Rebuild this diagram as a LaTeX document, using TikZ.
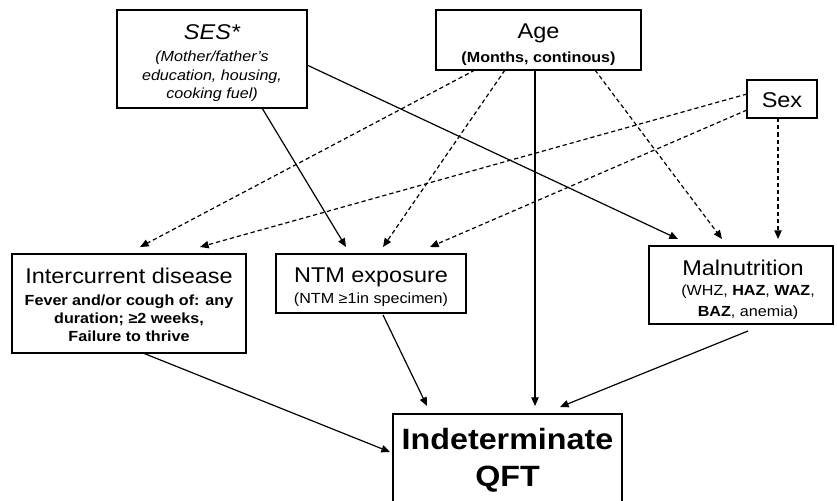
\documentclass[tikz,border=0pt]{standalone}
\usepackage{fontspec}
\setmainfont[FakeStretch=1.1]{Liberation Sans}
\usetikzlibrary{arrows.meta,calc}
\newcommand\ttlfont{\fontsize{16}{19}\selectfont}
\newcommand\subfnt{\fontsize{11}{14}\selectfont}
\newcommand\qftfnt{\fontsize{22}{27}\selectfont\bfseries}
\tikzset{
  box/.style={draw, line width=0.9pt, inner sep=0pt, outer sep=0pt},
  ttl/.style={anchor=base, font=\ttlfont, inner sep=0pt},
  subl/.style={anchor=base, font=\subfnt, inner sep=0pt},
  qftl/.style={anchor=base, font=\qftfnt, inner sep=0pt},
  arr/.style={line width=0.9pt, -{Triangle[length=6.5pt,width=5.5pt]}},
  dsh/.style={arr, dash pattern=on 3.2pt off 2.2pt}
}
\begin{document}
\begin{tikzpicture}[x=0.75pt,y=-0.75pt]
\useasboundingbox (0,0) rectangle (837,500);
\clip (0,0) rectangle (837,500);
\fill[white] (0,0) rectangle (837,500);
% boxes
\node[box, minimum width=142.5pt, minimum height=73.5pt] (ses) at (212,59) {};
\node[box, minimum width=153.75pt, minimum height=45pt] (age) at (538.5,40) {};
\node[box, minimum width=52.5pt, minimum height=28.5pt] (sex) at (782,99) {};
\node[box, minimum width=175.5pt, minimum height=74.25pt] (inter) at (129,303.5) {};
\node[box, minimum width=142.5pt, minimum height=44.25pt] (ntm) at (371,283.5) {};
\node[box, minimum width=138pt, minimum height=58.5pt] (mal) at (741,285) {};
\node[box, minimum width=171.75pt, minimum height=87pt] (qft) at (507.5,472) {};
% texts
\node[ttl] (sest) at (212,39) {\itshape SES*};
\node[subl] (ses1) at (212,61) {\itshape (Mother/father's};
\node[subl] (ses2) at (212,80) {\itshape education, housing,};
\node[subl] (ses3) at (212,98) {\itshape cooking fuel)};
\node[ttl] (aget) at (538.5,38) {Age};
\node[subl] (age1) at (538.5,62) {\bfseries (Months, continous)};
\node[ttl] (sext) at (782,107) {Sex};
\node[ttl] (intert) at (129,283) {Intercurrent disease};
\node[subl] (inter1) at (129,305) {\bfseries Fever and/or cough of: any};
\node[subl] (inter2) at (129,323) {\bfseries duration; ≥2 weeks,};
\node[subl] (inter3) at (129,341) {\bfseries Failure to thrive};
\node[ttl] (ntmt) at (371,282) {NTM exposure};
\node[subl] (ntm1) at (371,303) {(NTM ≥1in specimen)};
\node[ttl] (malt) at (743,275) {Malnutrition};
\node[subl] (mal1) at (748,295) {(WHZ, \textbf{HAZ}, \textbf{WAZ},};
\node[subl] (mal2) at (748,316) {\textbf{BAZ}, anemia)};
\node[qftl] (qft1) at (507.5,449) {Indeterminate};
\node[qftl] (qft2) at (507.5,486) {QFT};
% connectors
\draw[arr] ($(ses.south west)+(145,0)$) -- ($(ntm.north west)+(70,-7)$);
\draw[arr] ($(ses.north east)+(0,55)$) -- ($(mal.north west)+(29,-7)$);
\draw[dsh] ($(age.south west)+(39,0)$) -- ($(inter.north west)+(128,-7)$);
\draw[dsh] ($(age.south west)+(69,0)$) -- ($(ntm.north west)+(107,-7)$);
\draw[arr] ($(age.south west)+(99,0)$) -- ($(qft.north west)+(142,-8)$);
\draw[dsh] ($(age.south west)+(159,0)$) -- ($(mal.north west)+(73,-7)$);
\draw[dsh] ($(sex.north west)+(0,14)$) -- ($(inter.north west)+(188,-7)$);
\draw[dsh] ($(sex.north west)+(0,30)$) -- ($(ntm.north west)+(154,-7)$);
\draw[dsh] ($(sex.south west)+(31,0)$) -- ($(mal.north west)+(129,-7)$);
\draw[arr] ($(inter.south west)+(131,0)$) -- ($(qft.north west)+(-3,38)$);
\draw[arr] ($(ntm.south west)+(107,2)$) -- ($(qft.north west)+(34,-8)$);
\draw[arr] ($(mal.south west)+(99,7)$) -- ($(qft.north west)+(167,-7)$);
\end{tikzpicture}
\end{document}
